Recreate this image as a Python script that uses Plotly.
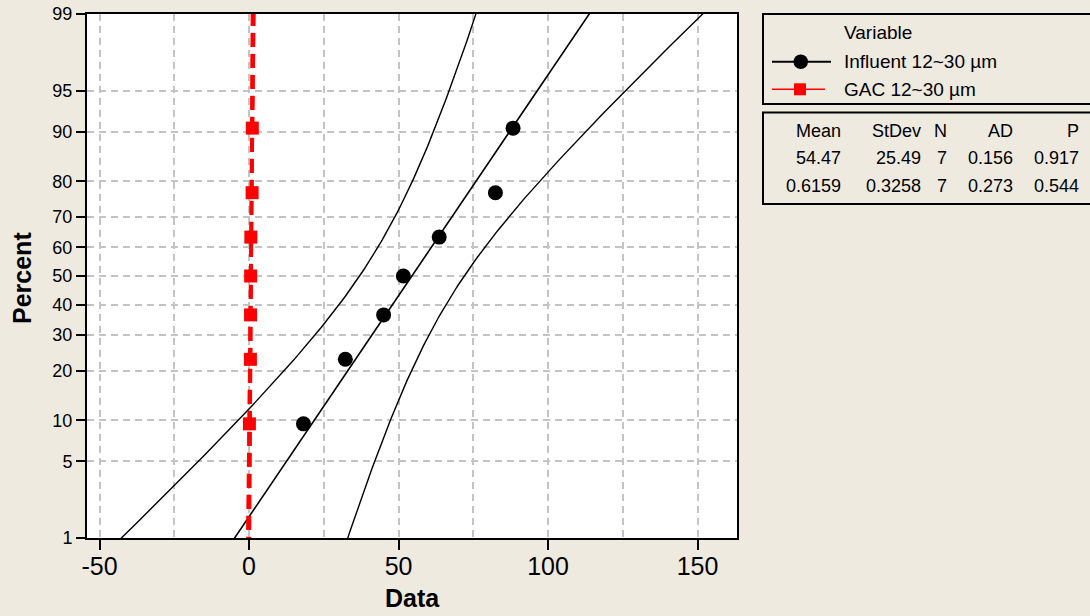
import plotly.graph_objects as go
from statistics import NormalDist

# ---- data -------------------------------------------------------------
PERCENT_TICKS = [1, 5, 10, 20, 30, 40, 50, 60, 70, 80, 90, 95, 99]
X_TICKS = [-50, 0, 50, 100, 150]

# plotting positions (median ranks) for n = 7
PLOT_PERCENT = [9.46, 22.97, 36.49, 50.0, 63.51, 77.03, 90.54]

INFLUENT = [18.2, 32.2, 45.0, 51.6, 63.6, 82.4, 88.3]
GAC = [0.12, 0.45, 0.50, 0.53, 0.60, 1.02, 1.09]

SERIES_NAMES = ["Influent 12~30 µm", "GAC 12~30 µm"]
MEANS = [54.47, 0.6159]
STDEVS = [25.49, 0.3258]
N_OBS = [7, 7]

STATS_HEADER = ["Mean", "StDev", "N", "AD", "P"]
STATS_ROWS = [
    ["54.47", "25.49", "7", "0.156", "0.917"],
    ["0.6159", "0.3258", "7", "0.273", "0.544"],
]

# ---- page geometry ----------------------------------------------------
W, H = 1090, 616
L, R, T, B = 87, 353, 14, 78
PW, PH = W - L - R, H - T - B
BG = "#EEEAE0"
FONT = "Liberation Sans, Arial, sans-serif"


def px(x):
    return (x - L) / PW


def py(y):
    return (H - B - y) / PH


nd = NormalDist()
zq = nd.inv_cdf
Z975 = zq(0.975)


def fit_curves(mean, sd, n):
    """Fitted percentile line with approximate 95% bounds."""
    zs = [i * 0.02 for i in range(-150, 151)]
    sd_mle = sd * ((n - 1) / n) ** 0.5
    fit, lo, hi = [], [], []
    for z in zs:
        xp = mean + sd * z
        se = (sd_mle ** 2 / n + z * z * sd ** 2 / (2 * (n - 1))) ** 0.5
        fit.append(xp)
        lo.append(xp - Z975 * se)
        hi.append(xp + Z975 * se)
    return zs, fit, lo, hi


fig = go.Figure()

styles = [
    dict(color="black", fit_w=1.6, band_w=1.4, dash="solid",
         marker=dict(symbol="circle", size=15, color="black")),
    dict(color="#FF0000", fit_w=4, band_w=2, dash="14px,7px",
         marker=dict(symbol="square", size=13, color="#FF0000")),
]
values = [INFLUENT, GAC]

for name, vals, mean, sd, n, st in zip(SERIES_NAMES, values, MEANS, STDEVS, N_OBS, styles):
    zs, fit, lo, hi = fit_curves(mean, sd, n)
    for xs, w in ((lo, st["band_w"]), (hi, st["band_w"]), (fit, st["fit_w"])):
        fig.add_trace(go.Scatter(
            x=xs, y=zs, mode="lines",
            line=dict(color=st["color"], width=w, dash=st["dash"]),
            hoverinfo="skip", showlegend=False,
        ))
    fig.add_trace(go.Scatter(
        x=vals, y=[zq(p / 100) for p in PLOT_PERCENT], mode="markers",
        marker=st["marker"], name=name, showlegend=False,
    ))

grid = dict(gridcolor="#C4C4C4", gridwidth=2, griddash="7px,5px")

fig.update_xaxes(
    range=[-54.2, 163.2],
    tickvals=X_TICKS, ticktext=[str(v) for v in X_TICKS],
    ticks="outside", ticklen=10, tickwidth=2, tickcolor="black",
    ticklabelstandoff=-5,
    tickfont=dict(size=25, color="black", family=FONT),
    showline=True, linecolor="black", linewidth=2, mirror=True,
    showgrid=True, zeroline=False, automargin=False,
    minor=dict(dtick=25, tick0=0, showgrid=True, ticks="", **grid),
    **grid,
)
fig.update_yaxes(
    range=[zq(0.01), zq(0.99)],
    tickvals=[zq(p / 100) for p in PERCENT_TICKS],
    ticktext=[str(p) for p in PERCENT_TICKS],
    ticks="outside", ticklen=9, tickwidth=2, tickcolor="black",
    tickfont=dict(size=18, color="black", family=FONT),
    showline=True, linecolor="black", linewidth=2, mirror=True,
    showgrid=True, zeroline=False, automargin=False,
    **grid,
)

annotations = [
    dict(text="<b>Data</b>", x=0.5, y=py(598), xanchor="center", yanchor="middle",
         font=dict(size=25, family=FONT, color="black")),
    dict(text="<b>Percent</b>", x=px(22), y=py(278), xanchor="center", yanchor="middle",
         textangle=-90, font=dict(size=25, family=FONT, color="black")),
    dict(text="Variable", x=px(842), y=py(32), xanchor="left", yanchor="middle",
         font=dict(size=19, family=FONT, color="black")),
    dict(text=SERIES_NAMES[0], x=px(842), y=py(61.7), xanchor="left", yanchor="middle",
         font=dict(size=19, family=FONT, color="black")),
    dict(text=SERIES_NAMES[1], x=px(842), y=py(89.3), xanchor="left", yanchor="middle",
         font=dict(size=19, family=FONT, color="black")),
]

col_right = [843.5, 922.5, 948.5, 1015, 1081]
row_y = [130.5, 158.5, 186]
for r_i, row in enumerate([STATS_HEADER] + STATS_ROWS):
    for xr, txt in zip(col_right, row):
        annotations.append(dict(
            text=txt, x=px(xr), y=py(row_y[r_i]), xanchor="right", yanchor="middle",
            font=dict(size=18, family=FONT, color="black"),
        ))

for a in annotations:
    a.update(xref="paper", yref="paper", showarrow=False)

shapes = [
    # legend and statistics boxes
    dict(type="rect", x0=px(763), x1=px(1100), y0=py(104), y1=py(14),
         line=dict(color="black", width=2)),
    dict(type="rect", x0=px(763), x1=px(1100), y0=py(204), y1=py(112.5),
         line=dict(color="black", width=2)),
    # legend keys
    dict(type="line", x0=px(772), x1=px(831), y0=py(61.7), y1=py(61.7),
         line=dict(color="black", width=2)),
    dict(type="circle", x0=px(793.5), x1=px(808), y0=py(69), y1=py(54.5),
         fillcolor="black", line=dict(color="black", width=0)),
    dict(type="line", x0=px(772), x1=px(825), y0=py(89.3), y1=py(89.3),
         line=dict(color="#FF0000", width=1.5)),
    dict(type="rect", x0=px(794), x1=px(806), y0=py(95.3), y1=py(83.3),
         fillcolor="#FF0000", line=dict(color="#FF0000", width=0)),
]
for s in shapes:
    s.update(xref="paper", yref="paper")

fig.update_layout(
    width=W, height=H,
    margin=dict(l=L, r=R, t=T, b=B, pad=0, autoexpand=False),
    paper_bgcolor=BG, plot_bgcolor="white",
    font=dict(family=FONT, color="black"),
    showlegend=False,
    annotations=annotations,
    shapes=shapes,
)

fig.write_html("out.html")
